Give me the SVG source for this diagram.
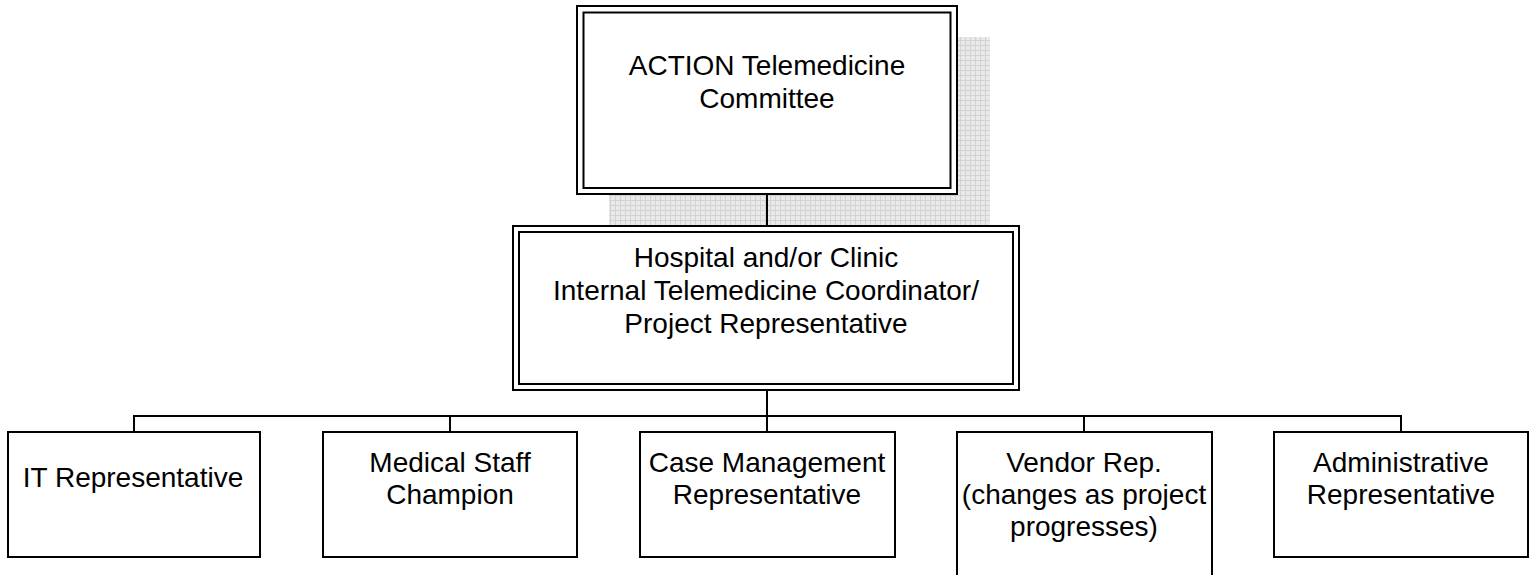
<svg xmlns="http://www.w3.org/2000/svg" width="1538" height="575" viewBox="0 0 1538 575">
  <style>
    .box { fill: #ffffff; stroke: #000000; stroke-width: 2; }
    .inner { fill: none; stroke: #000000; stroke-width: 2; }
    .wire { fill: none; stroke: #000000; stroke-width: 2; }
    .lbl { font-family: "Liberation Sans", Arial, sans-serif; font-size: 28px; fill: #000000; text-anchor: middle; }
  </style>
  <defs>
    <pattern id="grid" width="5" height="5" patternUnits="userSpaceOnUse">
      <rect width="5" height="5" fill="#e9e9e9"/>
      <path d="M0 0.5 H5 M0.5 0 V5" stroke="#d2d2d2" stroke-width="1"/>
    </pattern>
  </defs>
  <rect width="1538" height="575" fill="#ffffff"/>

  <!-- drop shadow behind the committee box -->
  <rect x="609" y="37" width="381" height="190" fill="url(#grid)"/>

  <!-- connectors -->
  <g id="connectors">
    <path class="wire" d="M767 194 V226"/>
    <path class="wire" d="M767 390 V432"/>
    <path class="wire" d="M134 432 V416 H1401 V432"/>
    <path class="wire" d="M450 416 V432"/>
    <path class="wire" d="M1084 416 V432"/>
  </g>

  <g id="committee">
    <rect class="box" x="577" y="6" width="380" height="188"/>
    <rect class="inner" x="583.5" y="12.5" width="367" height="175.5"/>
    <text class="lbl" x="767" y="75">ACTION Telemedicine</text>
    <text class="lbl" x="767" y="108">Committee</text>
  </g>

  <g id="coordinator">
    <rect class="box" x="513" y="226" width="506" height="164"/>
    <rect class="inner" x="519" y="232" width="494" height="152"/>
    <text class="lbl" x="766" y="267">Hospital and/or Clinic</text>
    <text class="lbl" x="766" y="300">Internal Telemedicine Coordinator/</text>
    <text class="lbl" x="766" y="333">Project Representative</text>
  </g>

  <g id="it-rep">
    <rect class="box" x="8" y="432" width="252" height="125"/>
    <text class="lbl" x="133" y="487">IT Representative</text>
  </g>

  <g id="medical-staff">
    <rect class="box" x="323" y="432" width="254" height="125"/>
    <text class="lbl" x="450" y="472">Medical Staff</text>
    <text class="lbl" x="450" y="504">Champion</text>
  </g>

  <g id="case-management">
    <rect class="box" x="640" y="432" width="255" height="125"/>
    <text class="lbl" x="767" y="472">Case Management</text>
    <text class="lbl" x="767" y="504">Representative</text>
  </g>

  <g id="vendor-rep">
    <rect class="box" x="957" y="432" width="255" height="150"/>
    <text class="lbl" x="1084" y="472">Vendor Rep.</text>
    <text class="lbl" x="1084" y="504">(changes as project</text>
    <text class="lbl" x="1084" y="536">progresses)</text>
  </g>

  <g id="administrative">
    <rect class="box" x="1274" y="432" width="254" height="125"/>
    <text class="lbl" x="1401" y="472">Administrative</text>
    <text class="lbl" x="1401" y="504">Representative</text>
  </g>
</svg>
